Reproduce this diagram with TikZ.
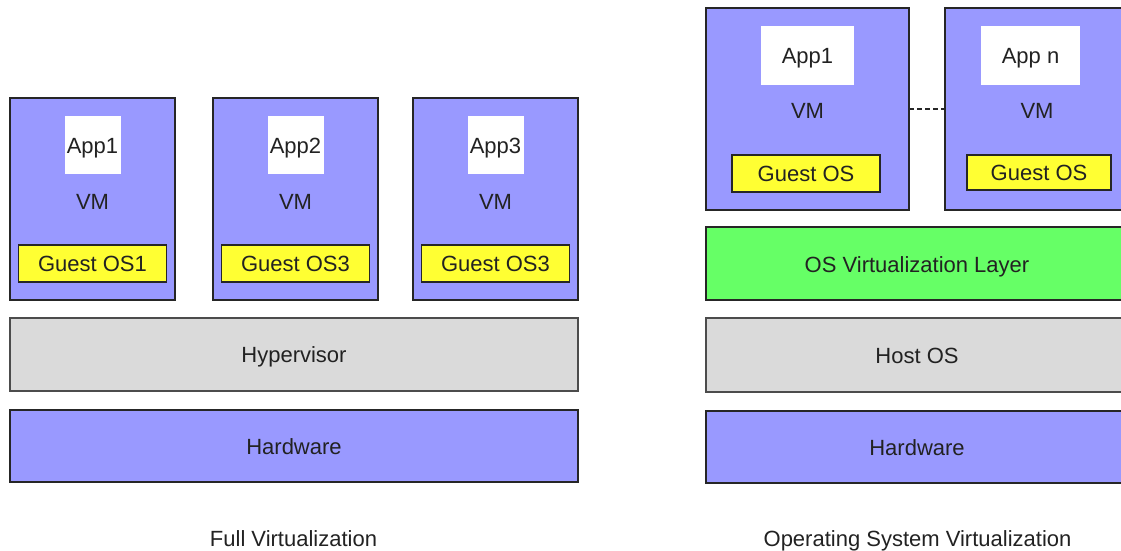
\documentclass[tikz,border=0pt]{standalone}
\usepackage{fontspec}
\setmainfont{Liberation Sans}
\definecolor{vmblue}{HTML}{9999FF}
\definecolor{osyellow}{HTML}{FFFF33}
\definecolor{layergreen}{HTML}{66FF66}
\definecolor{layergray}{HTML}{DADADA}
\definecolor{txt}{HTML}{222222}
\begin{document}
\begin{tikzpicture}[x=1pt,y=-1pt,
  every node/.style={font=\fontsize{22}{26}\selectfont, text=txt, inner sep=0pt, outer sep=0pt, text height=16pt, text depth=0pt},
  vmbox/.style={draw=black!85, line width=1.2pt, fill=vmblue, rectangle},
  appbox/.style={fill=white, rectangle},
  osbox/.style={draw=black!85, line width=1.2pt, fill=osyellow, rectangle},
  graybox/.style={draw=black!70, line width=1.2pt, fill=layergray, rectangle},
  greenbox/.style={draw=black!85, line width=1.2pt, fill=layergreen, rectangle},
  hwbox/.style={draw=black!85, line width=1.2pt, fill=vmblue, rectangle},
  plain/.style={}]
\useasboundingbox (0,0) rectangle (1121,551);
\clip (0,0) rectangle (1121,551);
\fill[white] (0,0) rectangle (1121,551);
% ---------- Full virtualization ----------
\foreach \i/\dx/\g in {1/0/Guest OS1, 2/203/Guest OS3, 3/403/Guest OS3}{
  \node[vmbox, minimum width=165, minimum height=202] (vm\i) at (92.5+\dx,199) {};
  \node[appbox, minimum width=56, minimum height=58] (app\i) at (92.5+\dx,145) {App\i};
  \node[plain] (vml\i) at (92.5+\dx,201) {VM};
  \node[osbox, minimum width=148, minimum height=37] (gos\i) at (92.5+\dx,263.5) {\g};
}
\node[graybox, minimum width=568, minimum height=73] (hyp) at (294,354.5) {Hypervisor};
\node[hwbox, minimum width=568, minimum height=72] (hw1) at (294,446) {Hardware};
\node[plain] (cap1) at (293.5,538.5) {Full Virtualization};
% ---------- OS virtualization ----------
\node[vmbox, minimum width=203, minimum height=202] (rvm1) at (807.5,109) {};
\node[appbox, minimum width=93, minimum height=59] (rapp1) at (807.5,55.5) {App1};
\node[plain] (rvml1) at (807.5,110) {VM};
\node[osbox, minimum width=148, minimum height=37] (rgos1) at (806,173.5) {Guest OS};
\node[vmbox, minimum width=185, minimum height=202] (rvm2) at (1037.5,109) {};
\node[appbox, minimum width=99, minimum height=59] (rapp2) at (1030.5,55.5) {App n};
\node[plain] (rvml2) at (1037,110) {VM};
\node[osbox, minimum width=144, minimum height=35] (rgos2) at (1039,172.5) {Guest OS};
\draw[black!85, line width=1.2pt, dash pattern=on 5pt off 3pt] (rvm1.east |- 0,109) -- (rvm2.west |- 0,109);
\node[greenbox, minimum width=440, minimum height=73] (osv) at (926,263.5) {};
\node[plain] (osvl) at (917,264) {OS Virtualization Layer};
\node[graybox, minimum width=440, minimum height=74] (host) at (926,355) {};
\node[plain] (hostl) at (917,355) {Host OS};
\node[hwbox, minimum width=440, minimum height=72] (hw2) at (926,447) {};
\node[plain] (hw2l) at (917,447) {Hardware};
\node[plain] (cap2) at (917.5,538.5) {Operating System Virtualization};
\end{tikzpicture}
\end{document}
